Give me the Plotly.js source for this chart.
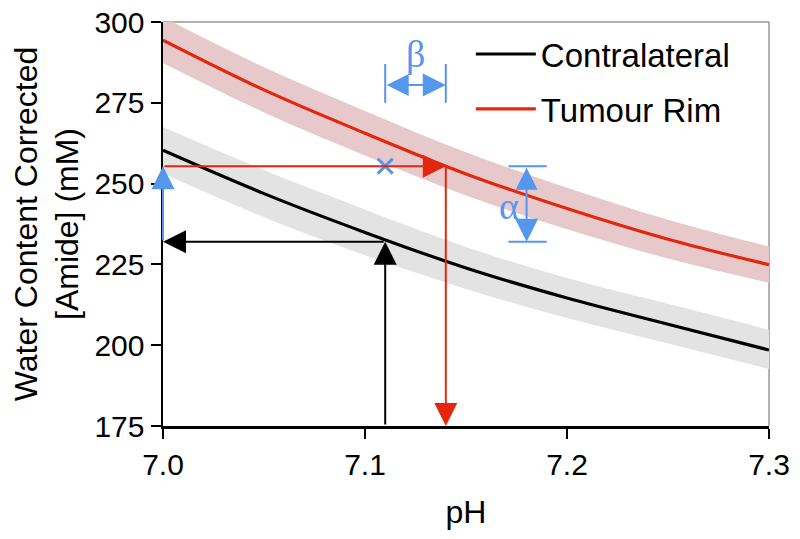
<!DOCTYPE html>
<html>
<head>
<meta charset="utf-8">
<script src="https://cdn.plot.ly/plotly-3.0.1.min.js"></script>
<style>html,body{margin:0;padding:0;background:#fff;}#chart{width:800px;height:539px;}</style>
</head>
<body>
<div id="chart"></div>
<script>
// ---- data ----
const pH = [7.00, 7.05, 7.10, 7.15, 7.20, 7.25, 7.30];
const contraMean  = [260.3, 246.9, 234.9, 223.9, 214.6, 206.5, 198.5];
const contraUpper = [267.5, 254.2, 242.0, 230.4, 220.8, 212.8, 204.8];
const contraLower = [253.1, 239.6, 227.8, 217.4, 208.4, 200.5, 192.6];
const rimMean  = [294.4, 279.0, 265.6, 253.0, 242.3, 232.8, 224.9];
const rimUpper = [301.5, 286.0, 272.5, 259.7, 248.7, 238.8, 230.5];
const rimLower = [287.3, 272.0, 258.7, 246.3, 235.9, 226.8, 219.3];

const seriesNames = ['Contralateral', 'Tumour Rim'];
const xTicks = [7.0, 7.1, 7.2, 7.3];
const xTickText = ['7.0', '7.1', '7.2', '7.3'];
const yTicks = [175, 200, 225, 250, 275, 300];

// annotation values
const pHContra = 7.11, amideContra = 232.0;   // read-off on contralateral curve
const pHRim = 7.14, amideRim = 255.4;         // read-off on tumour rim curve
const pHStart = 7.0, amideFloor = 175;
const betaY = 280.5, betaBarLow = 275.0, betaBarHigh = 287.0, betaLabelY = 290.0;
const alphaX = 7.18, alphaBarLeft = 7.171, alphaBarRight = 7.19, alphaLabelX = 7.1715, alphaLabelY = 243.0;

const RED = 'rgb(228,38,12)';
const BLUE = '#5596ee';
const FONT = 'Liberation Sans, Arial, sans-serif';
const SERIF = 'Liberation Serif, Times New Roman, serif';

const traces = [
  {x: pH, y: contraUpper, mode: 'lines', line: {width: 0, shape: 'spline'}, showlegend: false, hoverinfo: 'skip'},
  {x: pH, y: contraLower, mode: 'lines', line: {width: 0, shape: 'spline'}, fill: 'tonexty', fillcolor: 'rgb(227,227,227)', showlegend: false, hoverinfo: 'skip'},
  {x: pH, y: rimUpper, mode: 'lines', line: {width: 0, shape: 'spline'}, showlegend: false, hoverinfo: 'skip'},
  {x: pH, y: rimLower, mode: 'lines', line: {width: 0, shape: 'spline'}, fill: 'tonexty', fillcolor: 'rgb(232,201,203)', showlegend: false, hoverinfo: 'skip'},
  {x: pH, y: contraMean, mode: 'lines', name: seriesNames[0], legendgroup: 'a', line: {color: '#000', width: 3.2, shape: 'spline'}},
  {x: pH, y: rimMean, mode: 'lines', name: seriesNames[1], legendgroup: 'b', line: {color: RED, width: 3.2, shape: 'spline'}},
  {x: [pHContra], y: [amideRim], mode: 'markers', showlegend: false,
   marker: {symbol: 'x-thin', size: 15, line: {color: BLUE, width: 3}}}
];

function arrow(x, y, ax, ay, color, side) {
  return {x: x, y: y, ax: ax, ay: ay, xref: 'x', yref: 'y', axref: 'x', ayref: 'y',
    text: '', showarrow: true, arrowhead: 2, startarrowhead: 2, arrowside: side || 'end',
    arrowsize: 2.3, startarrowsize: 2.2, arrowwidth: 2, arrowcolor: color, standoff: 0, startstandoff: 0};
}

const annotations = [
  arrow(pHStart, amideContra, pHContra, amideContra, '#000'),
  arrow(pHContra, amideContra, pHContra, amideFloor, '#000'),
  arrow(pHRim, amideRim, pHStart, amideRim, RED),
  arrow(pHRim, amideFloor, pHRim, amideRim, RED),
  arrow(pHStart, amideRim, pHStart, amideContra, BLUE),
  arrow(pHRim, betaY, pHContra, betaY, BLUE, 'end+start'),
  arrow(alphaX, amideContra, alphaX, amideRim, BLUE, 'end+start'),
  {x: (pHContra + pHRim) / 2, y: betaLabelY, xref: 'x', yref: 'y', text: 'β', showarrow: false,
   font: {family: SERIF, size: 38, color: BLUE}},
  {x: alphaLabelX, y: alphaLabelY, xref: 'x', yref: 'y', text: 'α', showarrow: false,
   font: {family: SERIF, size: 38, color: BLUE}}
];

const shapes = [
  {type: 'line', xref: 'paper', yref: 'paper', x0: 0, x1: 1, y0: 1, y1: 1, line: {color: '#666', width: 1}, layer: 'below'},
  {type: 'line', xref: 'paper', yref: 'paper', x0: 1, x1: 1, y0: 0, y1: 1, line: {color: '#666', width: 1}, layer: 'below'},
  {type: 'line', xref: 'x', yref: 'y', x0: pHContra, x1: pHContra, y0: betaBarLow, y1: betaBarHigh, line: {color: BLUE, width: 2}},
  {type: 'line', xref: 'x', yref: 'y', x0: pHRim, x1: pHRim, y0: betaBarLow, y1: betaBarHigh, line: {color: BLUE, width: 2}},
  {type: 'line', xref: 'x', yref: 'y', x0: alphaBarLeft, x1: alphaBarRight, y0: amideRim, y1: amideRim, line: {color: BLUE, width: 2}},
  {type: 'line', xref: 'x', yref: 'y', x0: alphaBarLeft, x1: alphaBarRight, y0: amideContra, y1: amideContra, line: {color: BLUE, width: 2}}
];

const layout = {
  width: 800, height: 539,
  margin: {l: 163, r: 31, t: 22, b: 113},
  paper_bgcolor: '#fff', plot_bgcolor: '#fff',
  font: {family: FONT, color: '#000'},
  showlegend: true,
  legend: {x: 0.508, y: 0.99, xanchor: 'left', yanchor: 'top', bgcolor: 'rgba(0,0,0,0)',
    itemwidth: 60,
    font: {family: FONT, size: 33, color: '#000'}, tracegroupgap: 9, traceorder: 'grouped'},
  xaxis: {range: [7.0, 7.3], tickvals: xTicks, ticktext: xTickText, showgrid: false, zeroline: false,
    showline: true, linecolor: '#000', linewidth: 2.5, ticks: 'outside', ticklen: 10, tickwidth: 2, tickcolor: '#000',
    tickfont: {family: FONT, size: 30}, title: {text: 'pH', font: {family: FONT, size: 32}, standoff: 21}},
  yaxis: {range: [175, 300], tickvals: yTicks, showgrid: false, zeroline: false,
    showline: true, linecolor: '#000', linewidth: 2.5, ticks: 'outside', ticklen: 10, tickwidth: 2, tickcolor: '#000',
    tickfont: {family: FONT, size: 30},
    title: {text: 'Water Content Corrected<br>[Amide] (mM)', font: {family: FONT, size: 32}, standoff: 6}},
  annotations: annotations,
  shapes: shapes
};

Plotly.newPlot('chart', traces, layout, {displayModeBar: false, staticPlot: true});
</script>
</body>
</html>
